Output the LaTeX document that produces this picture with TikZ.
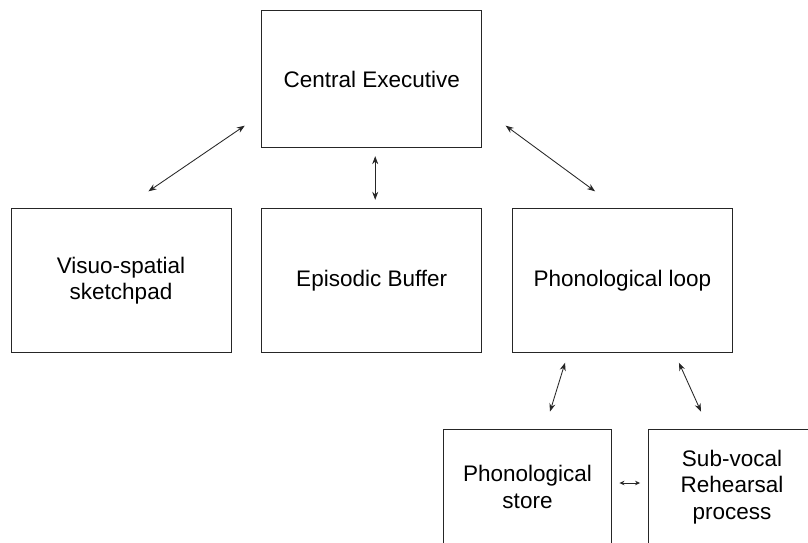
\documentclass[tikz,border=0pt]{standalone}
\usepackage{fontspec}
\setmainfont{Liberation Sans}
\usetikzlibrary{arrows.meta,calc}
\begin{document}
\begin{tikzpicture}[x=1pt,y=-1pt,
  box/.style={draw=black!85,line width=0.9pt,rectangle,align=center,
    font=\fontsize{22.5}{26.5}\selectfont,inner sep=0pt},
  link/.style={draw=black!85,line width=0.85pt,{Stealth[length=8pt,width=6pt]}-{Stealth[length=8pt,width=6pt]}},
  slink/.style={draw=black!85,line width=0.8pt,{Stealth[length=5pt,width=4.5pt]}-{Stealth[length=5pt,width=4.5pt]}}]
\useasboundingbox (0,0) rectangle (808,542);
\clip (0,0) rectangle (808,542);
\fill[white] (0,0) rectangle (808,542);
\node[box,minimum width=220pt,minimum height=137pt] (ce) at (371.7,79.2) {Central Executive};
\node[box,minimum width=220pt,minimum height=144.5pt] (vs) at (121,280.5) {Visuo-spatial\\sketchpad};
\node[box,minimum width=220pt,minimum height=144.5pt] (eb) at (371.7,280.5) {Episodic Buffer};
\node[box,minimum width=220pt,minimum height=144.5pt] (pl) at (622.5,280.5) {Phonological loop};
\node[box,minimum width=168pt,minimum height=116pt] (ps) at (527.5,487) {Phonological\\store};
\node[box,minimum width=168pt,minimum height=116pt] (sv) at (732,487) {Sub-vocal\\Rehearsal\\process};
\draw[link] ($(ce.south west)+(-16.5,-22.5)$) -- ($(vs.north east)+(-83,-16.5)$);
\draw[link] ($(ce.south)+(3.5,8)$) -- ($(eb.north)+(3.5,-8)$);
\draw[link] ($(ce.south east)+(23.5,-22.5)$) -- ($(pl.north west)+(83,-16.5)$);
\draw[link] ($(pl.south west)+(53,9.5)$) -- ($(ps.north)+(22.5,-17)$);
\draw[link] ($(pl.south east)+(-54,9.5)$) -- ($(sv.north)+(-31,-17)$);
\draw[slink] ($(ps.east)+(7.5,-4)$) -- ($(sv.west)+(-7.5,-4)$);
\end{tikzpicture}
\end{document}
